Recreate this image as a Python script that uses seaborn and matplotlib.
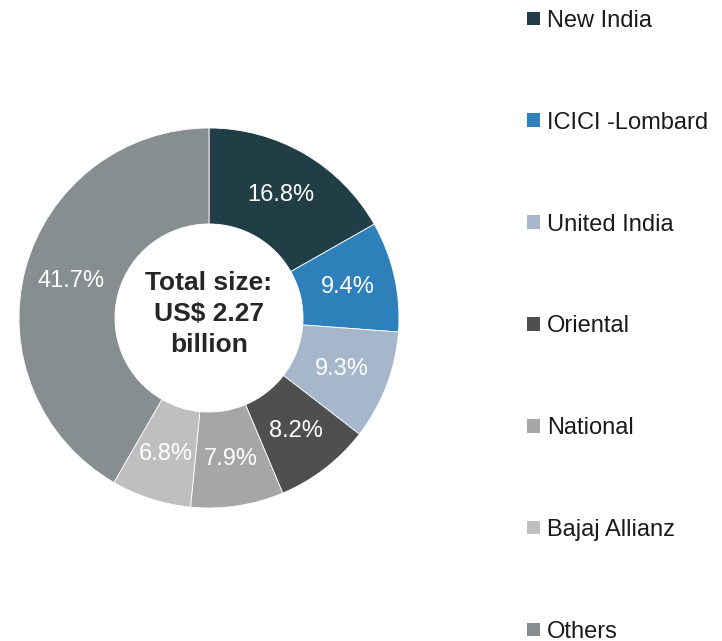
import matplotlib
matplotlib.use("Agg")
import matplotlib.pyplot as plt
import seaborn as sns
from matplotlib.patches import Patch

sns.set_theme(style="white")
plt.rcParams['font.family'] = ['Liberation Sans', 'DejaVu Sans']

companies = ["New India", "ICICI -Lombard", "United India", "Oriental",
             "National", "Bajaj Allianz", "Others"]
shares = [16.8, 9.4, 9.3, 8.2, 7.9, 6.8, 41.7]
colors = ["#213D45", "#2E80BA", "#A6B6CB", "#4F4F4F", "#A6A6A6", "#BFBFBF", "#868E90"]

W, H = 722, 641
fig = plt.figure(figsize=(W / 100, H / 100), dpi=100)

# pie centre ~(209, 318) px, radius ~190 px
cx, cy, r = 209, 318, 190
ax = fig.add_axes([(cx - r) / W, (H - cy - r) / H, 2 * r / W, 2 * r / H])

wedges, texts, autotexts = ax.pie(
    shares, colors=colors, startangle=90, counterclock=False,
    autopct=lambda p: f"{p:.1f}%", pctdistance=0.75,
    wedgeprops=dict(width=0.505, edgecolor="white", linewidth=0.6),
    textprops=dict(color="white", fontsize=17),
)
ax.set_xlim(-1, 1)
ax.set_ylim(-1, 1)
ax.set_aspect("equal")

ax.text(0, 0.02, "Total size:\nUS$ 2.27\nbillion", ha="center", va="center",
        fontsize=19, fontweight="bold", color="#262626", linespacing=1.36)

handles = [Patch(facecolor=c, edgecolor="none") for c in colors]
leg = fig.legend(handles, companies, loc="upper left",
                 bbox_to_anchor=(518 / W, 1 - 0.5 / H), frameon=False,
                 fontsize=17, labelspacing=3.38, handlelength=0.52,
                 handleheight=0.52, handletextpad=0.3, borderaxespad=0)
for t in leg.get_texts():
    t.set_color("#1a1a1a")

fig.savefig("out.png", dpi=100)
